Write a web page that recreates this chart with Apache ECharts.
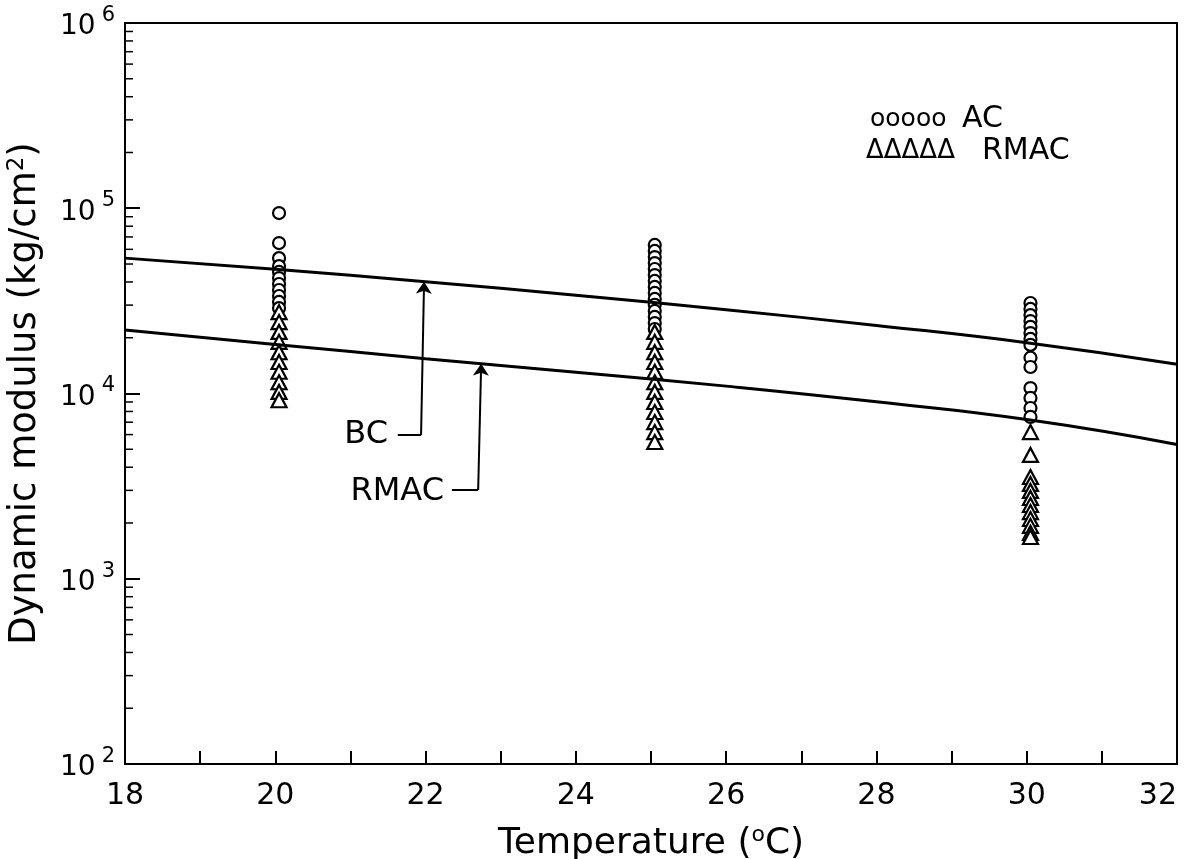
<!DOCTYPE html>
<html>
<head>
<meta charset="utf-8">
<script src="https://cdn.jsdelivr.net/npm/echarts@6/dist/echarts.min.js"></script>
<style>
  html, body { margin: 0; padding: 0; background: #fff; overflow: hidden; }
  #chart { width: 1186px; height: 859px; }
</style>
</head>
<body>
<div id="chart"></div>
<script>
// temperatures of the fitted curves
var curveTemps = [18, 20, 22, 24, 26, 28, 30, 32];
var bcCurve = [53800, 46800, 40100, 33900, 28300, 23300, 18800, 14400];
var rmacCurve = [22030, 18410, 15420, 13030, 10960, 9020, 7240, 5310];

// measured points (kg/cm2)
var acTemps = [20.05, 25.05, 30.05];
var ac20 = [94200, 64900, 53800, 48700, 45300, 42000, 39000, 36200, 33600, 31200, 28900];
var ac25 = [63400, 58800, 54500, 50600, 47000, 43600, 40500, 37600, 34900, 32400, 30100, 27900, 25900, 24000, 22300];
var ac30 = [30800, 28600, 26500, 24600, 22900, 21200, 19700, 18300, 15600, 13900, 10700, 9460, 8350, 7470];
var rm20 = [27500, 24300, 21500, 19000, 16700, 14800, 13100, 11500, 10200, 9200];
var rm25 = [21500, 19000, 16700, 14800, 13100, 11500, 10200, 9000, 7940, 7010, 6190, 5470];
var rm30 = [6190, 4660, 3540, 3250, 2980, 2730, 2500, 2290, 2100, 1930, 1770, 1680];

// leader lines of the annotations: horizontal part, then the arrow
var bcLeader = [[21.63, 5970], [21.94, 5970]];
var bcArrow = [[21.94, 5970], [21.98, 40100]];
var rmacLeader = [[22.35, 3010], [22.70, 3010]];
var rmacArrow = [[22.70, 3010], [22.74, 14490]];

// minor ticks of the log axis
var minorTickValues = [
  200, 300, 400, 500, 600, 700, 800, 900,
  2000, 3000, 4000, 5000, 6000, 7000, 8000, 9000,
  20000, 30000, 40000, 50000, 60000, 70000, 80000, 90000,
  200000, 300000, 400000, 500000, 600000, 700000, 800000, 900000
];

var FONT = 'DejaVu Sans';

function pairs(x, ys) {
  return ys.map(function (y) { return [x, y]; });
}
function zip(xs, ys) {
  return xs.map(function (x, i) { return [x, ys[i]]; });
}
function txt(x, y, s, size, align) {
  return {
    type: 'text', x: x, y: y,
    style: { text: s, fontSize: size, fontFamily: FONT, fill: '#000', align: align || 'left', verticalAlign: 'middle' }
  };
}

var chart = echarts.init(document.getElementById('chart'));

var option = {
  backgroundColor: '#fff',
  animation: false,
  grid: {
    left: 125, right: 9, top: 23, bottom: 95,
    outerBoundsMode: 'none',
    show: true, borderColor: '#000', borderWidth: 2
  },
  xAxis: {
    type: 'value', min: 18, max: 32, interval: 1,
    name: 'Temperature ({s|o}C)',
    nameLocation: 'middle', nameGap: 60,
    nameTextStyle: {
      color: '#000', fontFamily: FONT, fontSize: 36,
      rich: { s: { fontSize: 22, verticalAlign: 'top', padding: [0, 0, 18, 0], color: '#000', fontFamily: FONT } }
    },
    axisLine: { lineStyle: { color: '#000', width: 2 } },
    axisTick: { inside: true, length: 13, lineStyle: { color: '#000', width: 2 } },
    axisLabel: {
      color: '#000', fontFamily: FONT, fontSize: 30, margin: 17,
      alignMaxLabel: 'right',
      formatter: function (v) { return v % 2 === 0 ? String(v) : ''; }
    },
    splitLine: { show: false }
  },
  yAxis: {
    type: 'log', logBase: 10, min: 100, max: 1000000,
    name: '{a|Dynamic modulus (kg/cm}{s|2}{a|)}',
    nameLocation: 'middle', nameGap: 80,
    nameTextStyle: {
      rich: {
        a: { fontSize: 37, color: '#000', fontFamily: FONT },
        s: { fontSize: 23, color: '#000', fontFamily: FONT, verticalAlign: 'top', padding: [0, 0, 16, 0] }
      }
    },
    axisLine: { lineStyle: { color: '#000', width: 2 } },
    axisTick: { inside: true, length: 15, lineStyle: { color: '#000', width: 2 } },
    axisLabel: {
      margin: 10,
      formatter: function (v) {
        return '{b|10}{s|' + Math.round(Math.log10(v)) + '}';
      },
      rich: {
        b: { fontSize: 28, color: '#000', fontFamily: FONT, lineHeight: 36, verticalAlign: 'bottom' },
        s: { fontSize: 21, color: '#000', fontFamily: FONT, lineHeight: 36, verticalAlign: 'top', padding: [0, 0, 0, 6] }
      }
    },
    splitLine: { show: false }
  },
  graphic: [
    txt(870, 119, 'ooooo', 25),
    txt(962, 119, 'AC', 30),
    txt(866, 151, 'ΔΔΔΔΔ', 26),
    txt(982, 151, 'RMAC', 30),
    txt(388, 435, 'BC', 32, 'right'),
    txt(444, 492, 'RMAC', 32, 'right')
  ],
  series: [
    {
      name: 'BC', type: 'line', data: zip(curveTemps, bcCurve),
      smooth: true, symbol: 'none',
      lineStyle: { color: '#000', width: 3 }
    },
    {
      name: 'RMAC curve', type: 'line', data: zip(curveTemps, rmacCurve),
      smooth: true, symbol: 'none',
      lineStyle: { color: '#000', width: 3 }
    },
    {
      name: 'AC', type: 'scatter', symbol: 'circle', symbolSize: 12,
      data: pairs(acTemps[0], ac20).concat(pairs(acTemps[1], ac25), pairs(acTemps[2], ac30)),
      itemStyle: { color: '#fff', borderColor: '#000', borderWidth: 2.2, opacity: 1 }
    },
    {
      name: 'RMAC', type: 'scatter', symbol: 'triangle', symbolSize: [15, 14],
      data: pairs(acTemps[0], rm20).concat(pairs(acTemps[1], rm25), pairs(acTemps[2], rm30)),
      itemStyle: { color: '#fff', borderColor: '#000', borderWidth: 2.2, opacity: 1 }
    },
    {
      type: 'lines', coordinateSystem: 'cartesian2d',
      symbol: 'none',
      lineStyle: { color: '#000', width: 2, opacity: 1 },
      data: [{ coords: bcLeader }, { coords: rmacLeader }]
    },
    {
      type: 'lines', coordinateSystem: 'cartesian2d',
      symbol: ['none', 'arrow'], symbolSize: 12,
      lineStyle: { color: '#000', width: 2, opacity: 1 },
      data: [{ coords: bcArrow }, { coords: rmacArrow }]
    },
    {
      type: 'custom', silent: true,
      data: minorTickValues.map(function (v) { return [18, v]; }),
      encode: { x: 0, y: 1 },
      renderItem: function (params, api) {
        var p = api.coord([api.value(0), api.value(1)]);
        return {
          type: 'line',
          shape: { x1: p[0], y1: p[1], x2: p[0] + 8, y2: p[1] },
          style: { stroke: '#000', lineWidth: 1.5 }
        };
      }
    }
  ]
};

chart.setOption(option);
</script>
</body>
</html>
